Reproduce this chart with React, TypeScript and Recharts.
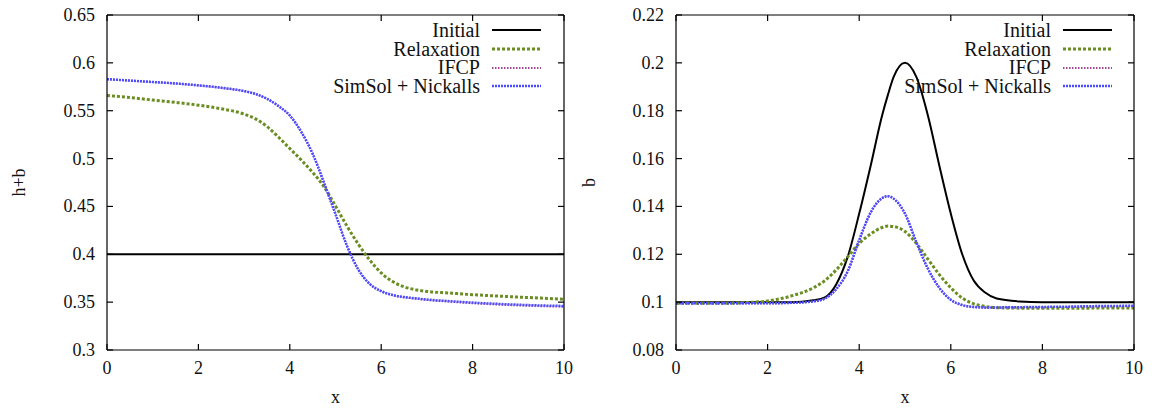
import React from 'react';
import { LineChart, Line, XAxis, YAxis } from 'recharts';

// sample positions along x (denser through the transition)
const xs = [0, 0.5, 1, 1.5, 2, 2.5, 3, 3.25, 3.5, 3.75, 4, 4.25, 4.5, 4.625, 4.75, 5, 5.25, 5.5, 5.75, 6, 6.25, 6.5, 6.75, 7, 7.5, 8, 8.5, 9, 9.5, 10];

// left panel: h+b
const hbInitial = [0.4, 0.4, 0.4, 0.4, 0.4, 0.4, 0.4, 0.4, 0.4, 0.4, 0.4, 0.4, 0.4, 0.4, 0.4, 0.4, 0.4, 0.4, 0.4, 0.4, 0.4, 0.4, 0.4, 0.4, 0.4, 0.4, 0.4, 0.4, 0.4, 0.4];
const hbRelaxation = [0.566, 0.5637, 0.5612, 0.5587, 0.5558, 0.552, 0.5465, 0.5415, 0.5335, 0.5225, 0.5105, 0.4985, 0.4855, 0.4785, 0.4705, 0.4505, 0.4295, 0.4105, 0.394, 0.3805, 0.3715, 0.366, 0.363, 0.3612, 0.3595, 0.3578, 0.3565, 0.3553, 0.3542, 0.353];
const hbIfcp = [0.583, 0.5815, 0.58, 0.5784, 0.5764, 0.5739, 0.5704, 0.5674, 0.5624, 0.5549, 0.5449, 0.5279, 0.5049, 0.4904, 0.4744, 0.4419, 0.4089, 0.3839, 0.3689, 0.3613, 0.3572, 0.355, 0.3536, 0.3523, 0.3505, 0.3489, 0.3476, 0.3466, 0.3458, 0.3452];
const hbSimSol = [0.583, 0.5815, 0.58, 0.5785, 0.5765, 0.574, 0.5705, 0.5675, 0.5625, 0.555, 0.545, 0.528, 0.505, 0.4905, 0.4745, 0.442, 0.409, 0.384, 0.369, 0.3615, 0.3575, 0.3553, 0.354, 0.3527, 0.351, 0.3495, 0.3483, 0.3473, 0.3465, 0.346];

// right panel: b
const bInitial = [0.1, 0.1, 0.1, 0.1, 0.1, 0.1, 0.1008, 0.102, 0.1075, 0.119, 0.137, 0.157, 0.178, 0.1865, 0.194, 0.2, 0.194, 0.178, 0.157, 0.137, 0.12, 0.109, 0.104, 0.1015, 0.1003, 0.1, 0.1, 0.1, 0.1, 0.1];
const bRelaxation = [0.0995, 0.0995, 0.0995, 0.0998, 0.1005, 0.1025, 0.106, 0.109, 0.1135, 0.119, 0.1245, 0.1285, 0.1312, 0.1318, 0.1316, 0.1295, 0.1245, 0.118, 0.1115, 0.106, 0.1017, 0.0993, 0.0982, 0.0977, 0.0975, 0.0975, 0.0975, 0.0975, 0.0976, 0.0976];
const bIfcp = [0.0995, 0.0995, 0.0995, 0.0995, 0.0995, 0.0997, 0.1003, 0.1015, 0.1054, 0.1128, 0.1258, 0.1373, 0.1434, 0.1442, 0.1432, 0.1369, 0.1249, 0.1139, 0.1059, 0.1009, 0.0987, 0.0979, 0.0977, 0.0977, 0.0978, 0.0979, 0.098, 0.0981, 0.0982, 0.0983];
const bSimSol = [0.0995, 0.0995, 0.0995, 0.0995, 0.0995, 0.0997, 0.1003, 0.1015, 0.1055, 0.113, 0.126, 0.1375, 0.1435, 0.1443, 0.1433, 0.137, 0.125, 0.114, 0.106, 0.101, 0.0988, 0.098, 0.0978, 0.0978, 0.0979, 0.098, 0.0981, 0.0983, 0.0984, 0.0985];

const xTicks = [0, 2, 4, 6, 8, 10];
const hbTicks = [0.3, 0.35, 0.4, 0.45, 0.5, 0.55, 0.6, 0.65];
const bTicks = [0.08, 0.1, 0.12, 0.14, 0.16, 0.18, 0.2, 0.22];

const FONT = '"Liberation Serif", "Times New Roman", serif';
const INK = '#111';
const TICK_LEN = 6;
const TICK_W = 1.2;

const series = [
  { key: 'initial', name: 'Initial', color: '#000000', width: 2, dash: undefined as string | undefined },
  { key: 'relaxation', name: 'Relaxation', color: '#6b8e23', width: 3, dash: '3 2' },
  { key: 'ifcp', name: 'IFCP', color: '#a5469b', width: 2, dash: '1.5 1.5' },
  { key: 'simsol', name: 'SimSol + Nickalls', color: '#4b4bff', width: 2.5, dash: '2 1' },
];

const buildRows = (initial: number[], relaxation: number[], ifcp: number[], simsol: number[]) =>
  xs.map((x, i) => ({ x, initial: initial[i], relaxation: relaxation[i], ifcp: ifcp[i], simsol: simsol[i] }));

const leftRows = buildRows(hbInitial, hbRelaxation, hbIfcp, hbSimSol);
const rightRows = buildRows(bInitial, bRelaxation, bIfcp, bSimSol);

// gnuplot style: ticks point into the plot, labels outside
const Y_GAP = 12;
const X_GAP = 11;

const leftTick = (p: any) => (
  <g>
    <path d={`M${p.x + Y_GAP},${p.y}h${TICK_LEN}`} stroke="#000" strokeWidth={TICK_W} fill="none" />
    <text x={p.x} y={p.y} textAnchor="end" dominantBaseline="central" fill={INK} fontSize={18} fontFamily={FONT}>
      {String(p.payload.value)}
    </text>
  </g>
);

const bottomTick = (p: any) => (
  <g>
    <path d={`M${p.x},${p.y - X_GAP}v${-TICK_LEN}`} stroke="#000" strokeWidth={TICK_W} fill="none" />
    <text x={p.x} y={p.y} dy="0.71em" textAnchor="middle" fill={INK} fontSize={18} fontFamily={FONT}>
      {String(p.payload.value)}
    </text>
  </g>
);

const topTick = (p: any) => (
  <path d={`M${p.x},${p.y}v${TICK_LEN}`} stroke="#000" strokeWidth={TICK_W} fill="none" />
);
const rightTick = (p: any) => (
  <path d={`M${p.x},${p.y}h${-TICK_LEN}`} stroke="#000" strokeWidth={TICK_W} fill="none" />
);

const yLabel = (text: string, cx: number) => (props: any) => {
  const vb = props.viewBox || {};
  const cy = (vb.y ?? 15) + (vb.height ?? 335) / 2;
  return (
    <text
      x={cx}
      y={cy}
      transform={`rotate(-90 ${cx} ${cy})`}
      textAnchor="middle"
      dominantBaseline="central"
      fill={INK}
      fontSize={18}
      fontFamily={FONT}
    >
      {text}
    </text>
  );
};

type PanelProps = {
  data: any[];
  yTicks: number[];
  label: string;
  labelX: number;
  width: number;
  yAxisWidth: number;
  marginRight: number;
};

const Panel = ({ data, yTicks, label, labelX, width, yAxisWidth, marginRight }: PanelProps) => {
  const domain = [yTicks[0], yTicks[yTicks.length - 1]];
  const border = { stroke: '#000', strokeWidth: 1.2 };
  return (
    <LineChart width={width} height={410} data={data} margin={{ top: 14, right: marginRight, bottom: 0, left: 0 }}>
      <XAxis
        xAxisId="b"
        dataKey="x"
        type="number"
        domain={[0, 10]}
        ticks={xTicks}
        height={60}
        tickSize={0}
        tickMargin={X_GAP}
        tickLine={false}
        axisLine={border}
        tick={bottomTick}
        label={{ value: 'x', position: 'insideBottom', offset: 7, fill: INK, fontSize: 18, fontFamily: FONT }}
      />
      <XAxis
        xAxisId="t"
        orientation="top"
        dataKey="x"
        type="number"
        domain={[0, 10]}
        ticks={xTicks}
        height={1}
        tickSize={0}
        tickMargin={0}
        tickLine={false}
        axisLine={border}
        tick={topTick}
      />
      <YAxis
        yAxisId="l"
        type="number"
        domain={domain}
        ticks={yTicks}
        allowDataOverflow
        width={yAxisWidth}
        tickSize={0}
        tickMargin={Y_GAP}
        tickLine={false}
        axisLine={border}
        tick={leftTick}
        label={yLabel(label, labelX)}
      />
      <YAxis
        yAxisId="r"
        orientation="right"
        type="number"
        domain={domain}
        ticks={yTicks}
        allowDataOverflow
        width={1}
        tickSize={0}
        tickMargin={0}
        tickLine={false}
        axisLine={border}
        tick={rightTick}
      />
      {series.map((s) => (
        <Line
          key={s.key}
          xAxisId="b"
          yAxisId="l"
          dataKey={s.key}
          name={s.name}
          type="monotone"
          stroke={s.color}
          strokeWidth={s.width}
          strokeDasharray={s.dash}
          dot={false}
          activeDot={false}
          isAnimationActive={false}
        />
      ))}
    </LineChart>
  );
};

const LegendBox = ({ left, width }: { left: number; width: number }) => (
  <div style={{ position: 'absolute', left, top: 21, width, fontFamily: FONT, fontSize: 20, color: INK }}>
    {series.map((s) => (
      <div
        key={s.key}
        style={{ display: 'flex', justifyContent: 'flex-end', alignItems: 'center', height: 18.7, lineHeight: '18.7px', whiteSpace: 'nowrap' }}
      >
        <span style={{ marginRight: 12 }}>{s.name}</span>
        <svg width={49} height={10}>
          <line x1={0} y1={5} x2={49} y2={5} stroke={s.color} strokeWidth={s.width} strokeDasharray={s.dash} />
        </svg>
      </div>
    ))}
  </div>
);

export default function App() {
  return (
    <div style={{ position: 'absolute', left: 0, top: 0, width: 1154, height: 410, background: '#fff' }}>
      <div style={{ position: 'absolute', left: 0, top: 0 }}>
        <Panel data={leftRows} yTicks={hbTicks} label="h+b" labelX={18.5} width={580} yAxisWidth={107} marginRight={15} />
      </div>
      <div style={{ position: 'absolute', left: 580, top: 0 }}>
        <Panel data={rightRows} yTicks={bTicks} label="b" labelX={9} width={574} yAxisWidth={96} marginRight={19} />
      </div>
      <LegendBox left={300} width={241} />
      <LegendBox left={870} width={242} />
    </div>
  );
}
